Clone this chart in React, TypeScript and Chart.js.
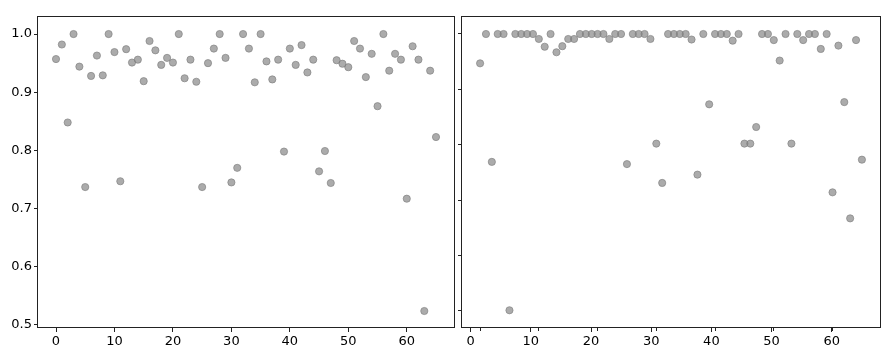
import React, { useEffect, useRef } from "react";
import { Chart, registerables } from "chart.js";

Chart.register(...registerables);

// Left panel values (index 0..65)
const leftValues = [
  0.957, 0.982, 0.848, 1.0, 0.944, 0.737, 0.928, 0.963, 0.929, 1.0,
  0.969, 0.747, 0.974, 0.951, 0.956, 0.919, 0.988, 0.972, 0.947, 0.959,
  0.951, 1.0, 0.924, 0.956, 0.918, 0.737, 0.95, 0.975, 1.0, 0.959,
  0.745, 0.77, 1.0, 0.975, 0.917, 1.0, 0.953, 0.922, 0.956, 0.798,
  0.975, 0.947, 0.981, 0.934, 0.956, 0.764, 0.799, 0.744, 0.955, 0.949,
  0.943, 0.988, 0.975, 0.926, 0.966, 0.876, 1.0, 0.937, 0.966, 0.956,
  0.717, 0.979, 0.956, 0.524, 0.937, 0.823,
];

// Right panel values (index 0..65)
const rightValues = [
  0.947, 1.0, 0.769, 1.0, 1.0, 0.501, 1.0, 1.0, 1.0, 1.0,
  0.991, 0.977, 1.0, 0.967, 0.978, 0.991, 0.991, 1.0, 1.0, 1.0,
  1.0, 1.0, 0.991, 1.0, 1.0, 0.765, 1.0, 1.0, 1.0, 0.991,
  0.802, 0.731, 1.0, 1.0, 1.0, 1.0, 0.99, 0.746, 1.0, 0.873,
  1.0, 1.0, 1.0, 0.988, 1.0, 0.802, 0.802, 0.832, 1.0, 1.0,
  0.989, 0.952, 1.0, 0.802, 1.0, 0.989, 1.0, 1.0, 0.973, 1.0,
  0.714, 0.979, 0.877, 0.667, 0.989, 0.773,
];

const leftYTicks = [0.5, 0.6, 0.7, 0.8, 0.9, 1.0];
const rightYTicks = [0.5, 0.6, 0.7, 0.8, 0.9, 1.0];
const xTickLabels = [0, 10, 20, 30, 40, 50, 60];

const POINT_FILL = "rgba(128,128,128,0.66)";
const POINT_EDGE = "rgba(128,128,128,0.66)";
const FONT = { family: "'DejaVu Sans', sans-serif", size: 13 };

const framePlugin = {
  id: "frame",
  afterDraw(chart: any) {
    const { ctx, chartArea: a } = chart;
    ctx.save();
    ctx.strokeStyle = "#222";
    ctx.lineWidth = 1;
    const l = Math.round(a.left) + 0.5;
    const t = Math.round(a.top) + 0.5;
    const r = Math.round(a.right) - 0.5;
    const b = Math.round(a.bottom) - 0.5;
    ctx.strokeRect(l, t, r - l, b - t);
    ctx.restore();
  },
};

const setTicks = (vals: number[]) => (axis: any) => {
  axis.ticks = vals.map((v) => ({ value: v }));
};

function toPoints(vals: number[]) {
  return vals.map((v, i) => ({ x: i, y: v }));
}

function ScatterPanel(props: {
  left: number;
  width: number;
  kind: "left" | "right";
}) {
  const ref = useRef<HTMLCanvasElement | null>(null);
  useEffect(() => {
    const canvas = ref.current!;
    const isLeft = props.kind === "left";
    const values = isLeft ? leftValues : rightValues;
    const scales: any = {};
    if (isLeft) {
      scales.x = {
        type: "linear",
        position: "bottom",
        min: -3.25,
        max: 68.25,
        afterBuildTicks: setTicks(xTickLabels),
        afterFit: (s: any) => {
          s.height = 25;
        },
        border: { display: false },
        grid: {
          display: true,
          drawOnChartArea: false,
          drawTicks: true,
          tickLength: 4,
          color: "#222",
        },
        ticks: { color: "#000", font: FONT, padding: 2, maxRotation: 0 },
      };
      scales.y = {
        type: "linear",
        position: "left",
        min: 0.4948,
        max: 1.031,
        afterBuildTicks: setTicks(leftYTicks),
        afterFit: (s: any) => {
          s.width = 37;
        },
        border: { display: false },
        grid: {
          display: true,
          drawOnChartArea: false,
          drawTicks: true,
          tickLength: 3,
          color: "#222",
        },
        ticks: {
          color: "#000",
          font: FONT,
          padding: 2,
          callback: (v: number) => v.toFixed(1),
        },
      };
    } else {
      scales.x = {
        type: "linear",
        position: "bottom",
        min: -3.25,
        max: 68.25,
        afterBuildTicks: setTicks(xTickLabels),
        afterFit: (s: any) => {
          s.height = 0;
        },
        border: { display: false },
        grid: {
          display: true,
          drawOnChartArea: false,
          drawTicks: true,
          tickLength: 3,
          color: "#222",
        },
        ticks: { display: false },
      };
      scales.x2 = {
        type: "linear",
        position: "bottom",
        min: -1.61,
        max: 68.19,
        afterBuildTicks: setTicks(xTickLabels),
        afterFit: (s: any) => {
          s.height = 25;
        },
        border: { display: false },
        grid: {
          display: true,
          drawOnChartArea: false,
          drawTicks: true,
          tickLength: 4,
          color: "#222",
        },
        ticks: { color: "#000", font: FONT, padding: 2, maxRotation: 0 },
      };
      scales.y = {
        type: "linear",
        position: "left",
        min: 0.469,
        max: 1.0325,
        afterBuildTicks: setTicks(rightYTicks),
        afterFit: (s: any) => {
          s.width = 6;
        },
        border: { display: false },
        grid: {
          display: true,
          drawOnChartArea: false,
          drawTicks: true,
          tickLength: 3,
          color: "#222",
        },
        ticks: { display: false },
      };
    }

    const chart = new Chart(canvas, {
      type: "scatter",
      data: {
        datasets: [
          {
            data: toPoints(values),
            xAxisID: "x",
            yAxisID: "y",
            backgroundColor: POINT_FILL,
            borderColor: POINT_EDGE,
            borderWidth: 1,
            pointRadius: 3.6,
          },
        ],
      },
      options: {
        responsive: false,
        animation: false,
        devicePixelRatio: 1,
        layout: {
          padding: isLeft
            ? { top: 16, right: 3, bottom: 0, left: 0 }
            : { top: 16, right: 10, bottom: 0, left: 0 },
        },
        plugins: {
          legend: { display: false },
          tooltip: { enabled: false },
        },
        scales,
      },
      plugins: [framePlugin],
    });
    return () => chart.destroy();
  }, [props.kind]);

  return (
    <canvas
      ref={ref}
      width={props.width}
      height={353}
      style={{
        position: "absolute",
        left: props.left,
        top: 0,
        width: props.width,
        height: 353,
      }}
    />
  );
}

export default function App() {
  return (
    <div
      style={{
        position: "fixed",
        left: 0,
        top: 0,
        width: 891,
        height: 353,
        background: "#fff",
        overflow: "hidden",
      }}
    >
      <ScatterPanel kind="left" left={0} width={460} />
      <ScatterPanel kind="right" left={455} width={436} />
    </div>
  );
}
